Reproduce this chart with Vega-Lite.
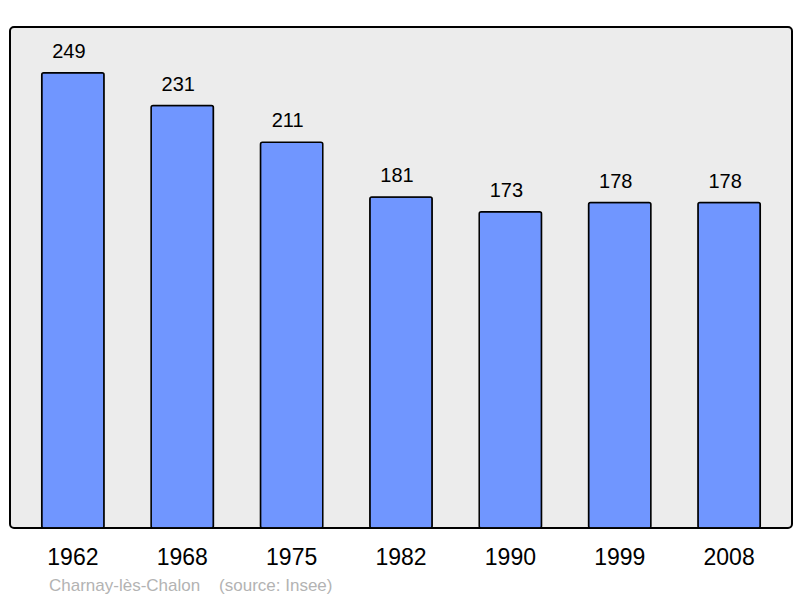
{
  "$schema": "https://vega.github.io/schema/vega-lite/v6.json",
  "width": 782,
  "height": 501,
  "autosize": "none",
  "padding": {"left": 10, "top": 27, "right": 8, "bottom": 70},
  "background": "white",
  "config": {
    "font": "Liberation Sans",
    "view": {"fill": "#ececec", "stroke": "black", "strokeWidth": 2, "cornerRadius": 4}
  },
  "title": {
    "text": "Charnay-lès-Chalon \u00a0\u00a0\u00a0(source: Insee)",
    "orient": "bottom",
    "anchor": "start",
    "dx": 39,
    "offset": 9,
    "fontSize": 17,
    "fontWeight": "normal",
    "color": "#b3b3b3",
    "font": "Liberation Sans"
  },
  "data": {
    "values": [
      {"year": "1962", "pop": 249},
      {"year": "1968", "pop": 231},
      {"year": "1975", "pop": 211},
      {"year": "1982", "pop": 181},
      {"year": "1990", "pop": 173},
      {"year": "1999", "pop": 178},
      {"year": "2008", "pop": 178}
    ]
  },
  "encoding": {
    "x": {
      "field": "year",
      "type": "ordinal",
      "scale": {"paddingInner": 0.43, "paddingOuter": 0.29},
      "axis": {
        "title": null,
        "domain": false,
        "ticks": false,
        "labelAngle": 0,
        "labelFontSize": 23,
        "labelColor": "black",
        "labelPadding": 18
      }
    },
    "y": {
      "field": "pop",
      "type": "quantitative",
      "scale": {"domain": [0, 274], "nice": false},
      "axis": null
    }
  },
  "layer": [
    {
      "mark": {"type": "bar", "fill": "#7096ff", "stroke": "black", "strokeWidth": 1.5, "cornerRadius": 2}
    },
    {
      "mark": {"type": "text", "dy": -21, "dx": -4, "fontSize": 20, "color": "black", "baseline": "middle"},
      "encoding": {"text": {"field": "pop", "type": "quantitative"}}
    }
  ]
}
